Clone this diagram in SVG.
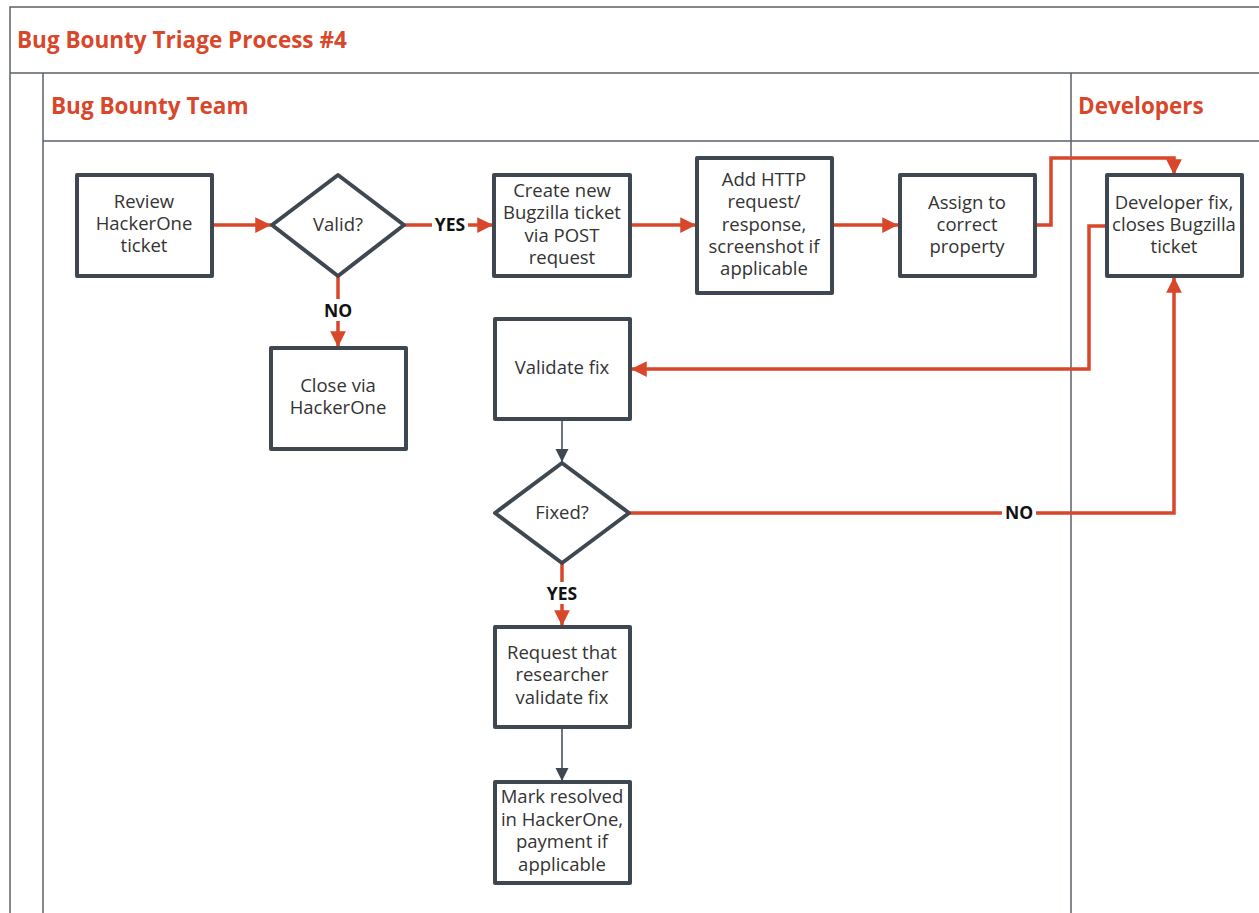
<svg xmlns="http://www.w3.org/2000/svg" width="1259" height="913" viewBox="0 0 1259 913">
<defs>
<style>
.lane{fill:none;stroke:#5b6169;stroke-width:1.5}
.title{font-family:"Open Sans","Liberation Sans",sans-serif;font-weight:bold;fill:#d9472b;font-size:22.5px}
.box{fill:#fff;stroke:#3f4750;stroke-width:4;stroke-linejoin:round}
.t{font-family:"Open Sans","Liberation Sans",sans-serif;font-size:18.5px;fill:#333;text-anchor:middle}
.red{fill:none;stroke:#d9472b;stroke-width:3.5}
.gray{fill:none;stroke:#3f4750;stroke-width:1.5}
.lbl{font-family:"Open Sans","Liberation Sans",sans-serif;font-size:17.5px;font-weight:bold;fill:#111;text-anchor:middle}
</style>
<marker id="ar" viewBox="0 0 10 10" refX="10" refY="5" markerWidth="4.5" markerHeight="4.5" markerUnits="strokeWidth" orient="auto">
<path d="M0,0 L10,5 L0,10 z" fill="#d9472b"/>
</marker>
<marker id="ag" viewBox="0 0 10 10" refX="10" refY="5" markerWidth="9" markerHeight="9" markerUnits="strokeWidth" orient="auto">
<path d="M0,0 L10,5 L0,10 z" fill="#3f4750"/>
</marker>
</defs>
<rect width="1259" height="913" fill="#fff"/>
<g id="pool">
<path class="lane" d="M10,913 V7 H1259 M10,73 H1259 M43,913 V73 M43,141 H1259 M1071,73 V913"/>
<text class="title" x="17" y="48">Bug Bounty Triage Process #4</text>
<text class="title" x="51" y="114">Bug Bounty Team</text>
<text class="title" x="1078" y="114">Developers</text>
</g>
<g id="connectors">
<path class="red" d="M213,225 H271" marker-end="url(#ar)"/>
<path class="red" d="M405,225 H493" marker-end="url(#ar)"/>
<path class="red" d="M631,225 H696" marker-end="url(#ar)"/>
<path class="red" d="M833,225 H898" marker-end="url(#ar)"/>
<path class="red" d="M1035,225 H1051 V158 H1174 V175" marker-end="url(#ar)"/>
<path class="red" d="M1106,226 H1089 V369 H631" marker-end="url(#ar)"/>
<path class="red" d="M338,276 V347" marker-end="url(#ar)"/>
<path class="gray" d="M562,419 V462" marker-end="url(#ag)"/>
<path class="red" d="M629,513 H1174 V277" marker-end="url(#ar)"/>
<path class="red" d="M562,563 V626" marker-end="url(#ar)"/>
<path class="gray" d="M562,727 V781" marker-end="url(#ag)"/>
<rect x="432" y="214" width="36" height="22" fill="#fff"/>
<text class="lbl" x="450" y="231">YES</text>
<rect x="321" y="299" width="34" height="22" fill="#fff"/>
<text class="lbl" x="338" y="317">NO</text>
<rect x="1002" y="502" width="34" height="22" fill="#fff"/>
<text class="lbl" x="1019" y="519">NO</text>
<rect x="544" y="582" width="36" height="22" fill="#fff"/>
<text class="lbl" x="562" y="600">YES</text>
</g>
<g id="review">
<rect class="box" x="77" y="175" width="135" height="101"/>
<text class="t"><tspan x="144" y="208">Review</tspan><tspan x="144" y="230">HackerOne</tspan><tspan x="144" y="252">ticket</tspan></text>
</g>
<g id="valid">
<path class="box" d="M272,225 L338,175 L404,225 L338,276 z"/>
<text class="t" x="338" y="231">Valid?</text>
</g>
<g id="close">
<rect class="box" x="271" y="348" width="135" height="101"/>
<text class="t"><tspan x="338" y="392">Close via</tspan><tspan x="338" y="414">HackerOne</tspan></text>
</g>
<g id="create">
<rect class="box" x="494" y="175" width="136" height="101"/>
<text class="t"><tspan x="562" y="197">Create new</tspan><tspan x="562" y="219">Bugzilla ticket</tspan><tspan x="562" y="242">via POST</tspan><tspan x="562" y="264">request</tspan></text>
</g>
<g id="addhttp">
<rect class="box" x="697" y="158" width="135" height="135"/>
<text class="t"><tspan x="764" y="186">Add HTTP</tspan><tspan x="764" y="208">request/</tspan><tspan x="764" y="231">response,</tspan><tspan x="764" y="253">screenshot if</tspan><tspan x="764" y="275">applicable</tspan></text>
</g>
<g id="assign">
<rect class="box" x="900" y="175" width="135" height="101"/>
<text class="t"><tspan x="967" y="209">Assign to</tspan><tspan x="967" y="231">correct</tspan><tspan x="967" y="253">property</tspan></text>
</g>
<g id="developer">
<rect class="box" x="1107" y="175" width="135" height="101"/>
<text class="t"><tspan x="1174" y="209">Developer fix,</tspan><tspan x="1174" y="231">closes Bugzilla</tspan><tspan x="1174" y="253">ticket</tspan></text>
</g>
<g id="validate">
<rect class="box" x="495" y="319" width="135" height="100"/>
<text class="t" x="562" y="374">Validate fix</text>
</g>
<g id="fixed">
<path class="box" d="M495,513 L562,463 L629,513 L562,563 z"/>
<text class="t" x="562" y="519">Fixed?</text>
</g>
<g id="request">
<rect class="box" x="495" y="627" width="135" height="100"/>
<text class="t"><tspan x="562" y="659">Request that</tspan><tspan x="562" y="681">researcher</tspan><tspan x="562" y="704">validate fix</tspan></text>
</g>
<g id="mark">
<rect class="box" x="495" y="782" width="135" height="101"/>
<text class="t"><tspan x="562" y="803">Mark resolved</tspan><tspan x="562" y="826">in HackerOne,</tspan><tspan x="562" y="848">payment if</tspan><tspan x="562" y="871">applicable</tspan></text>
</g>
</svg>
